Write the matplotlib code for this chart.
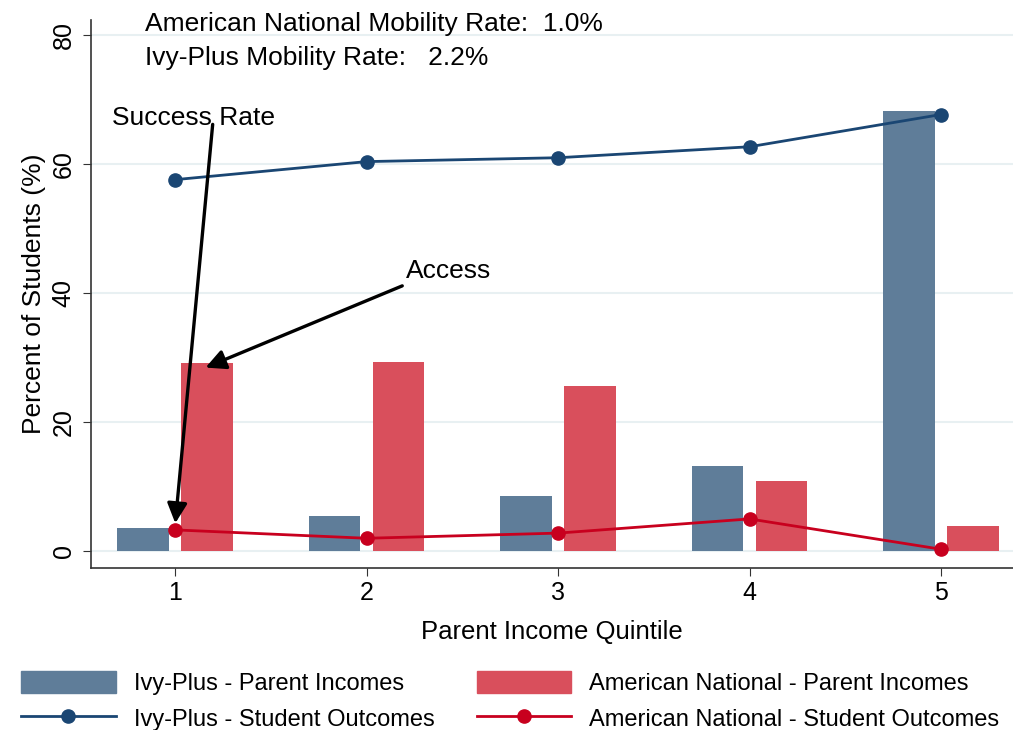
import numpy as np
import matplotlib
matplotlib.use('Agg')
import matplotlib.pyplot as plt
from matplotlib.patches import Patch
from matplotlib.lines import Line2D

plt.rcParams['font.family'] = ['Liberation Sans', 'DejaVu Sans']

quintiles = [1, 2, 3, 4, 5]
ivy_parent = [3.6, 5.4, 8.5, 13.2, 68.2]
nat_parent = [29.2, 29.4, 25.6, 10.9, 3.9]
ivy_outcome = [57.6, 60.4, 61.0, 62.7, 67.7]
nat_outcome = [3.3, 2.0, 2.8, 5.0, 0.3]
y_ticks = [0, 20, 40, 60, 80]

blue_bar = '#5f7d99'
red_bar = '#d94f5c'
blue_line = '#1a4673'
red_line = '#c8001e'

fig = plt.figure(figsize=(10.13, 7.3), dpi=100)
ax = fig.add_axes([0.0898, 0.222, 0.9102, 0.751])

x = np.array(quintiles)
w = 0.27
off = 0.167
ax.bar(x - off, ivy_parent, width=w, color=blue_bar, zorder=2)
ax.bar(x + off, nat_parent, width=w, color=red_bar, zorder=2)
ax.plot(x, ivy_outcome, color=blue_line, lw=2, marker='o', ms=9.5, zorder=3)
ax.plot(x, nat_outcome, color=red_line, lw=2, marker='o', ms=9.5, zorder=3)

ax.set_xlim(0.561, 5.376)
ax.set_ylim(-2.6, 82.4)
ax.set_xticks(quintiles)
ax.set_yticks(y_ticks)
ax.set_yticklabels([str(t) for t in y_ticks], rotation=90, va='center')
ax.tick_params(labelsize=18, length=6, color='#333333')
ax.tick_params(axis='y', pad=5)
ax.grid(axis='y', color='#e8f0f2', lw=1.5, zorder=0)
ax.set_axisbelow(True)
for s in ['top', 'right']:
    ax.spines[s].set_visible(False)
for s in ['left', 'bottom']:
    ax.spines[s].set_color('#333333')
    ax.spines[s].set_linewidth(1.2)

ax.set_ylabel('Percent of Students (%)', fontsize=19, labelpad=4)
ax.set_xlabel('Parent Income Quintile', fontsize=18.5, labelpad=11)

ax.text(0.843, 81.7, 'American National Mobility Rate:  1.0%', fontsize=19, va='center')
ax.text(0.843, 76.4, 'Ivy-Plus Mobility Rate:   2.2%', fontsize=19, va='center')

ax.text(0.671, 67.2, 'Success Rate', fontsize=19, va='center')
ax.annotate('', xy=(1.0, 3.9), xytext=(1.198, 66.6),
            arrowprops=dict(arrowstyle='-|>', color='black', lw=2.4, mutation_scale=30))
ax.text(2.206, 43.5, 'Access', fontsize=19, va='center')
ax.annotate('', xy=(1.146, 28.3), xytext=(2.20, 41.3),
            arrowprops=dict(arrowstyle='-|>', color='black', lw=2.4, mutation_scale=30))

handles = [
    Patch(color=blue_bar, label='Ivy-Plus - Parent Incomes'),
    Line2D([], [], color=blue_line, lw=2, marker='o', ms=9.5, label='Ivy-Plus - Student Outcomes'),
    Patch(color=red_bar, label='American National - Parent Incomes'),
    Line2D([], [], color=red_line, lw=2, marker='o', ms=9.5, label='American National - Student Outcomes'),
]
fig.legend(handles=handles, ncol=2, loc='lower left', bbox_to_anchor=(0.0, -0.03),
           frameon=False, fontsize=17, handlelength=4.0, handleheight=1.06,
           columnspacing=1.8, labelspacing=0.5, handletextpad=0.76)

fig.savefig('out.png', dpi=100)
